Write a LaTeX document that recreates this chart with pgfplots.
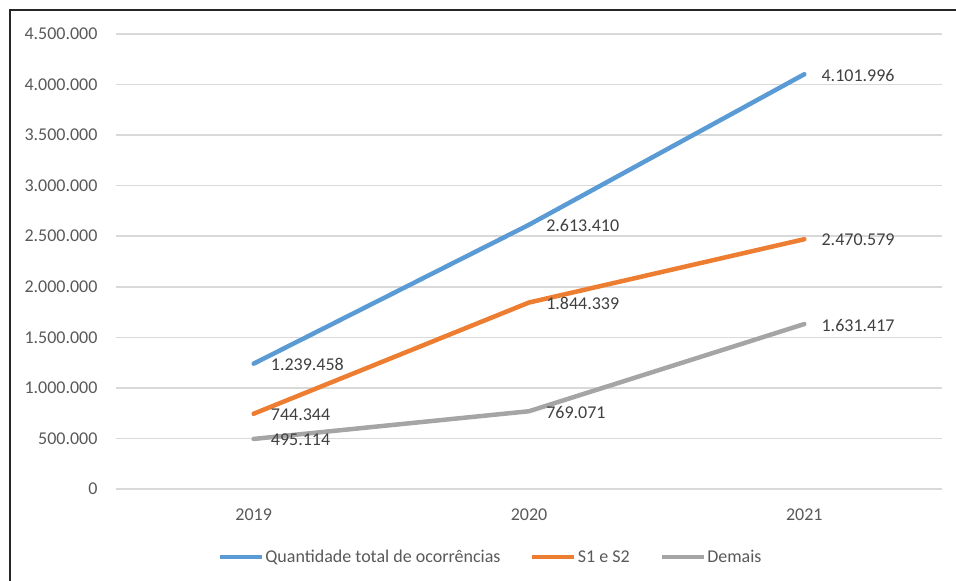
\documentclass[border=0pt]{standalone}
\usepackage{pgfplots}
\pgfplotsset{compat=1.18}
\usepackage{fontspec}
\setmainfont{Carlito}
\definecolor{serA}{HTML}{5B9BD5}
\definecolor{serB}{HTML}{ED7D31}
\definecolor{serC}{HTML}{A5A5A5}
\definecolor{gridc}{HTML}{D9D9D9}
\definecolor{txt}{HTML}{595959}
\definecolor{lbl}{HTML}{404040}
\begin{document}
\begin{tikzpicture}[x=1pt,y=1pt]
\useasboundingbox (0,0) rectangle (956,581);
% chart frame (left and top edges)
\draw[line width=2pt, color=black!85] (10,0) -- (10,571) -- (956,571);
\begin{axis}[
  at={(116pt,92pt)}, anchor=south west,
  scale only axis, width=826pt, height=455pt,
  xmin=-0.5, xmax=2.5, ymin=0, ymax=4500000,
  scaled y ticks=false,
  xtick={0,1,2}, xticklabels={2019,2020,2021},
  ytick={0,500000,1000000,1500000,2000000,2500000,3000000,3500000,4000000,4500000},
  yticklabels={0,500.000,1.000.000,1.500.000,2.000.000,2.500.000,3.000.000,3.500.000,4.000.000,4.500.000},
  axis line style={draw=none},
  major tick length=0pt,
  ymajorgrids, grid style={color=gridc, line width=1.5pt},
  tick label style={font=\fontsize{18}{20}\selectfont, text=txt},
  yticklabel style={xshift=-15pt},
  xticklabel style={yshift=-16pt},
  every axis plot/.append style={line width=4.5pt, line cap=round, line join=round},
  nodes near coords,
  point meta=explicit symbolic,
  every node near coord/.append style={anchor=west, inner sep=0pt, xshift=15pt, yshift=-1pt,
     font=\fontsize{18}{20}\selectfont, text=lbl},
  legend columns=3,
  legend style={at={(0.453,-0.150)}, anchor=center, draw=none, fill=none,
     font=\fontsize{18}{20}\selectfont, text=txt,
     nodes={inner sep=1.5pt},
     /tikz/every even column/.append style={column sep=28pt}},
  legend image code/.code={\draw[#1, line width=4.5pt, line cap=butt] (0pt,0pt) -- (42pt,0pt);},
]
\addplot[color=serA] coordinates {(0,1239458) [1.239.458] (1,2613410) [2.613.410] (2,4101996) [4.101.996]};
\addlegendentry{Quantidade total de ocorrências}
\addplot[color=serB] coordinates {(0,744344) [744.344] (1,1844339) [1.844.339] (2,2470579) [2.470.579]};
\addlegendentry{S1 e S2}
\addplot[color=serC] coordinates {(0,495114) [495.114] (1,769071) [769.071] (2,1631417) [1.631.417]};
\addlegendentry{Demais}
\end{axis}
\end{tikzpicture}
\end{document}
